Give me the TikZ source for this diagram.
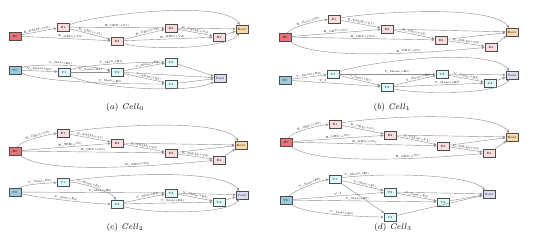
\documentclass[tikz,border=0pt]{standalone}
\usetikzlibrary{arrows.meta}
\definecolor{einred}{HTML}{E8737A}
\definecolor{epink}{HTML}{FBDCDC}
\definecolor{eoutorg}{HTML}{FDD9A9}
\definecolor{vinblue}{HTML}{9CCBDB}
\definecolor{vcyan}{HTML}{DDFBFB}
\definecolor{voutlav}{HTML}{DCDCF2}
\tikzset{
  box/.style={draw=black!70, line width=0.5pt, minimum width=0.37cm, minimum height=0.23cm, inner sep=0.4pt, font=\fontsize{2.6}{3}\selectfont},
  ein/.style={box, fill=einred},
  enode/.style={box, fill=epink},
  eout/.style={box, fill=eoutorg},
  vin/.style={box, fill=vinblue},
  vnode/.style={box, fill=vcyan},
  vout/.style={box, fill=voutlav},
  link/.style={draw=black!45, line width=0.35pt, -{Stealth[length=0.9mm,width=0.8mm]}},
  arc/.style={link, looseness=0.45},
  lbl/.style={font=\fontsize{2.4}{3}\selectfont, sloped, above, inner sep=0.3pt},
  caption/.style={font=\fontsize{7}{8}\selectfont}
}
\begin{document}
\begin{tikzpicture}[x=0.03cm, y=-0.03cm]
\useasboundingbox (0,0) rectangle (534,245);
% ---------------- Cell 0 : edge graph
\node[ein] (aE0) at (15,36) {E0};
\node[enode] (aE1) at (63,27) {E1};
\node[enode] (aE2) at (117,41) {E2};
\node[enode] (aE3) at (171,28) {E3};
\node[enode] (aE4) at (219,37) {E4};
\node[eout] (aEout) at (242,29) {Eout};
\draw[link] (aE0) -- node[lbl,pos=0.45] {E\_PALM(+V0)} (aE1);
\draw[link] (aE0) -- node[lbl,pos=0.55] {E\_GRU(+V0)} (aE2);
\draw[link] (aE1) -- node[lbl,pos=0.5] {E\_GRU(+V1)} (aE3);
\draw[link] (aE1) -- node[lbl,pos=0.5] {E\_GRU(+V1)} (aE2);
\draw[link] (aE2) -- node[lbl,pos=0.6] {E\_GRU(+V2)} (aE3);
\draw[link] (aE2) -- node[lbl,pos=0.55] {E\_GRU(+V2)} (aE4);
\draw[link] (aE3) -- node[lbl,pos=0.5] {E\_PALM(+V3)} (aE4);
\draw[arc] (aE1) to[out=20,in=120] (aEout);
\draw[arc] (aE2) to[out=-20,in=-125] (aEout);
\draw[link] (aE3) -- (aEout);
\draw[link] (aE4) -- (aEout);
% ---------------- Cell 0 : node graph
\node[vin] (aV0) at (15,70) {V0};
\node[vnode] (aV1) at (64,72) {V1};
\node[vnode] (aV2) at (117,72) {V2};
\node[vnode] (aV3) at (171,62) {V3};
\node[vnode] (aV4) at (171,84) {V4};
\node[vout] (aVout) at (220,78) {Vout};
\draw[link] (aV0) -- node[lbl] {V\_Mean(+E0)} (aV1);
\draw[arc] (aV0) to[out=20,in=165] node[lbl,pos=0.45] {V\_Max(+E0)} (aV2);
\draw[arc] (aV0) to[out=-25,in=180] node[lbl,pos=0.6] {V\_Max(+E0)} (aV4);
\draw[link] (aV1) -- node[lbl] {V\_Sum(+E1)} (aV2);
\draw[arc] (aV1) to[out=20,in=180] node[lbl,pos=0.45] {V\_Max(+E1)} (aV3);
\draw[arc] (aV1) to[out=-30,in=-150] (aVout);
\draw[link] (aV2) -- node[lbl,pos=0.6] {V\_Mean(+E2)} (aV3);
\draw[link] (aV2) -- node[lbl,pos=0.6] {V\_Mean(+E2)} (aV4);
\draw[link] (aV2) -- (aVout);
\draw[link] (aV3) -- (aVout);
\draw[link] (aV4) -- (aVout);
\node[caption] (acap) at (125,107) {$(a)\ \mathit{Cell}_0$};
% ---------------- Cell 1 : edge graph
\node[ein] (bE0) at (285,37) {E0};
\node[enode] (bE1) at (334,19) {E1};
\node[enode] (bE2) at (387,29) {E2};
\node[enode] (bE3) at (441,40) {E3};
\node[enode] (bE4) at (491,47) {E4};
\node[eout] (bEout) at (512,32) {Eout};
\draw[arc] (bE0) to[out=60,in=185] node[lbl,pos=0.55] {E\_Gate(+V0)} (bE1);
\draw[link] (bE0) -- node[lbl,pos=0.5] {E\_GRU(+V0)} (bE2);
\draw[link] (bE0) -- node[lbl,pos=0.5] {E\_GRU(+V0)} (bE3);
\draw[arc] (bE0) to[out=-40,in=185] node[lbl,pos=0.6] {E\_GRU(+V0)} (bE4);
\draw[link] (bE1) -- node[lbl] {E\_PALM(+V1)} (bE2);
\draw[link] (bE2) -- node[lbl] {E\_GRU(+V2)} (bE3);
\draw[link] (bE3) -- node[lbl] {E\_PALM(+V3)} (bE4);
\draw[arc] (bE1) to[out=10,in=125] (bEout);
\draw[link] (bE2) -- (bEout);
\draw[link] (bE3) -- (bEout);
\draw[link] (bE4) -- (bEout);
% ---------------- Cell 1 : node graph
\node[vin] (bV0) at (285,80) {V0};
\node[vnode] (bV1) at (333,74) {V1};
\node[vnode] (bV2) at (387,87) {V2};
\node[vnode] (bV3) at (442,74) {V3};
\node[vnode] (bV4) at (490,83) {V4};
\node[vout] (bVout) at (512,75) {Vout};
\draw[link] (bV0) -- node[lbl] {V\_Mean(+E0)} (bV1);
\draw[link] (bV0) -- node[lbl,pos=0.35] {V\_I} (bV2);
\draw[link] (bV1) -- node[lbl] {V\_Sum(+E1)} (bV2);
\draw[link] (bV1) -- node[lbl,pos=0.6] {V\_Mean(+E1)} (bV3);
\draw[link] (bV2) -- node[lbl,pos=0.6] {V\_Mean(+E2)} (bV3);
\draw[link] (bV2) -- node[lbl,pos=0.6] {V\_Mean(+E2)} (bV4);
\draw[link] (bV3) -- node[lbl] {V\_Mean(+E3)} (bV4);
\draw[arc] (bV1) to[out=20,in=125] (bVout);
\draw[arc] (bV2) to[out=-15,in=-125] (bVout);
\draw[link] (bV3) -- (bVout);
\draw[link] (bV4) -- (bVout);
\node[caption] (bcap) at (392,107) {$(b)\ \mathit{Cell}_1$};
% ---------------- Cell 2 : edge graph
\node[ein] (cE0) at (15,151) {E0};
\node[enode] (cE1) at (63,133) {E1};
\node[enode] (cE2) at (117,143) {E2};
\node[enode] (cE3) at (171,153) {E3};
\node[enode] (cE4) at (219,160) {E4};
\node[eout] (cEout) at (241,145) {Eout};
\draw[arc] (cE0) to[out=60,in=185] node[lbl,pos=0.55] {E\_GRU(+V0)} (cE1);
\draw[link] (cE0) -- node[lbl,pos=0.55] {E\_SHE(+V0)} (cE2);
\draw[link] (cE0) -- node[lbl,pos=0.5] {E\_GRU(+V0)} (cE3);
\draw[arc] (cE0) to[out=-40,in=185] node[lbl,pos=0.6] {E\_GRU(+V0)} (cE4);
\draw[link] (cE1) -- node[lbl] {E\_PALM(+V1)} (cE2);
\draw[link] (cE2) -- node[lbl] {E\_PALM(+V2)} (cE3);
\draw[link] (cE3) -- node[lbl] {E\_PALM(+V3)} (cE4);
\draw[arc] (cE1) to[out=10,in=125] (cEout);
\draw[link] (cE2) -- (cEout);
\draw[link] (cE3) -- (cEout);
\draw[link] (cE4) -- (cEout);
% ---------------- Cell 2 : node graph
\node[vin] (cV0) at (15,192) {V0};
\node[vnode] (cV1) at (63,182) {V1};
\node[vnode] (cV2) at (117,204) {V2};
\node[vnode] (cV3) at (171,193) {V3};
\node[vnode] (cV4) at (219,202) {V4};
\node[vout] (cVout) at (242,195) {Vout};
\draw[arc] (cV0) to[out=40,in=185] node[lbl,pos=0.55] {V\_Sum(+E0)} (cV1);
\draw[link] (cV0) -- node[lbl,pos=0.55] {V\_Max(+E0)} (cV3);
\draw[arc] (cV0) to[out=-15,in=180] node[lbl,pos=0.5] {V\_Sum(+E0)} (cV2);
\draw[arc] (cV1) to[out=0,in=110] node[lbl,pos=0.4] {V\_Mean(+E1)} (cV2);
\draw[link] (cV2) -- node[lbl,pos=0.6] {V\_Max(+E2)} (cV3);
\draw[link] (cV2) -- node[lbl,pos=0.55] {V\_Sum(+E2)} (cV4);
\draw[link] (cV3) -- node[lbl] {V\_Mean(+E3)} (cV4);
\draw[arc] (cV1) to[out=10,in=125] (cVout);
\draw[arc] (cV2) to[out=-20,in=-125] (cVout);
\draw[link] (cV3) -- (cVout);
\draw[link] (cV4) -- (cVout);
\node[caption] (ccap) at (125,227) {$(c)\ \mathit{Cell}_2$};
% ---------------- Cell 3 : edge graph
\node[ein] (dE0) at (286,142) {E0};
\node[enode] (dE1) at (335,124) {E1};
\node[enode] (dE2) at (390,135) {E2};
\node[enode] (dE3) at (443,146) {E3};
\node[enode] (dE4) at (489,153) {E4};
\node[eout] (dEout) at (512,137) {Eout};
\draw[arc] (dE0) to[out=60,in=185] node[lbl,pos=0.55] {E\_GRU(+V0)} (dE1);
\draw[link] (dE0) -- node[lbl,pos=0.5] {E\_GRU(+V0)} (dE2);
\draw[link] (dE0) -- node[lbl,pos=0.5] {E\_GRU(+V0)} (dE3);
\draw[arc] (dE0) to[out=-40,in=185] node[lbl,pos=0.6] {E\_GRU(+V0)} (dE4);
\draw[link] (dE1) -- node[lbl] {E\_GRU(+V1)} (dE2);
\draw[link] (dE2) -- node[lbl] {E\_PALM(+V2)} (dE3);
\draw[link] (dE3) -- node[lbl] {E\_PALM(+V3)} (dE4);
\draw[arc] (dE1) to[out=10,in=125] (dEout);
\draw[link] (dE2) -- (dEout);
\draw[link] (dE3) -- (dEout);
\draw[link] (dE4) -- (dEout);
% ---------------- Cell 3 : node graph
\node[vin] (dV0) at (286,200) {V0};
\node[vnode] (dV1) at (335,179) {V1};
\node[vnode] (dV2) at (390,192) {V2};
\node[vnode] (dV3) at (443,202) {V3};
\node[vnode] (dV4) at (390,217) {V4};
\node[vout] (dVout) at (489,194) {Vout};
\draw[arc] (dV0) to[out=50,in=185] node[lbl,pos=0.55] {V\_Sum(+E0)} (dV1);
\draw[link] (dV0) -- node[lbl,pos=0.5] {V\_I} (dV2);
\draw[link] (dV0) -- node[lbl,pos=0.45] {V\_Max(+E0)} (dV3);
\draw[arc] (dV0) to[out=-40,in=180] node[lbl,pos=0.55] {V\_Max(+E0)} (dV4);
\draw[link] (dV1) -- node[lbl,pos=0.55] {V\_Max(+E1)} (dV2);
\draw[link] (dV1) -- (dV4);
\draw[arc] (dV1) to[out=10,in=135] node[lbl,pos=0.15] {V\_Mean(+E1)} (dVout);
\draw[link] (dV2) -- node[lbl] {V\_Sum(+E2)} (dV3);
\draw[link] (dV2) -- (dVout);
\draw[link] (dV3) -- (dVout);
\draw[link] (dV4) -- (dVout);
\node[caption] (dcap) at (393,227) {$(d)\ \mathit{Cell}_3$};
\end{tikzpicture}
\end{document}
